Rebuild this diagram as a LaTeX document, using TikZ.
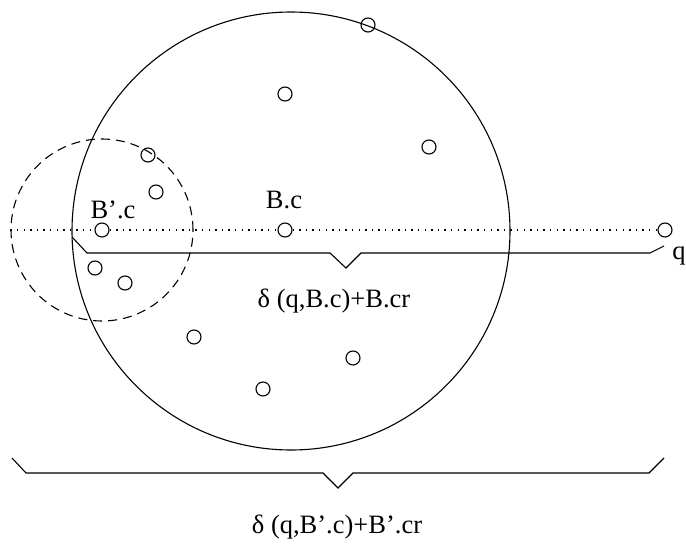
\documentclass[tikz,border=0pt]{standalone}
\usepackage{fontspec}
\setmainfont{Liberation Serif}
\usetikzlibrary{positioning}

\begin{document}
\begin{tikzpicture}[x=1pt,y=-1pt,line width=1.1pt,
  dot/.style={draw,circle,inner sep=0pt,minimum size=14pt},
  ball/.style={draw,circle,inner sep=0pt},
  lbl/.style={inner sep=0pt,font=\fontsize{26.5}{30}\selectfont},
  brace/.style={line join=miter}]
\useasboundingbox (0,0) rectangle (686,546);
% the two balls
\node[ball,minimum size=438pt] (bball) at (291,231) {};
\node[ball,dashed,dash pattern=on 9pt off 6pt,minimum size=182pt] (pball) at (102,230) {};
% centres and query
\node[dot] (bc) at (285,230) {};
\node[dot] (pc) at (102,230) {};
\node[dot] (q) at (665,230) {};
% other points
\foreach \x/\y [count=\i] in {368/25,285/94,429/147,148/155,156/192,
    95/268,125/283,194/337,353/358,263/389}
  \node[dot] (p\i) at (\x,\y) {};
\draw[dash pattern=on 1.4pt off 5.2pt] (pball.west) -- (pc) -- (bc) -- (q);
\node[lbl] (pclbl) at (113,210) {B’.c};
\node[lbl] (bclbl) at (284,200) {B.c};
\node[lbl] (qlbl) at (679,256) {q};
% braces
\draw[brace] (72,237) -- (87,253) -- (330,253) -- (346,268) -- (361,253)
  -- (650,253) -- (664,246);
\draw[brace] (12,458) -- (26,473) -- (323,473) -- (338,488) -- (353,473)
  -- (649,473) -- (664,458);
\node[lbl] (d1) at (334,301) {δ (q,B.c)+B.cr};
\node[lbl] (d2) at (337,527) {δ (q,B’.c)+B’.cr};
\end{tikzpicture}
\end{document}
